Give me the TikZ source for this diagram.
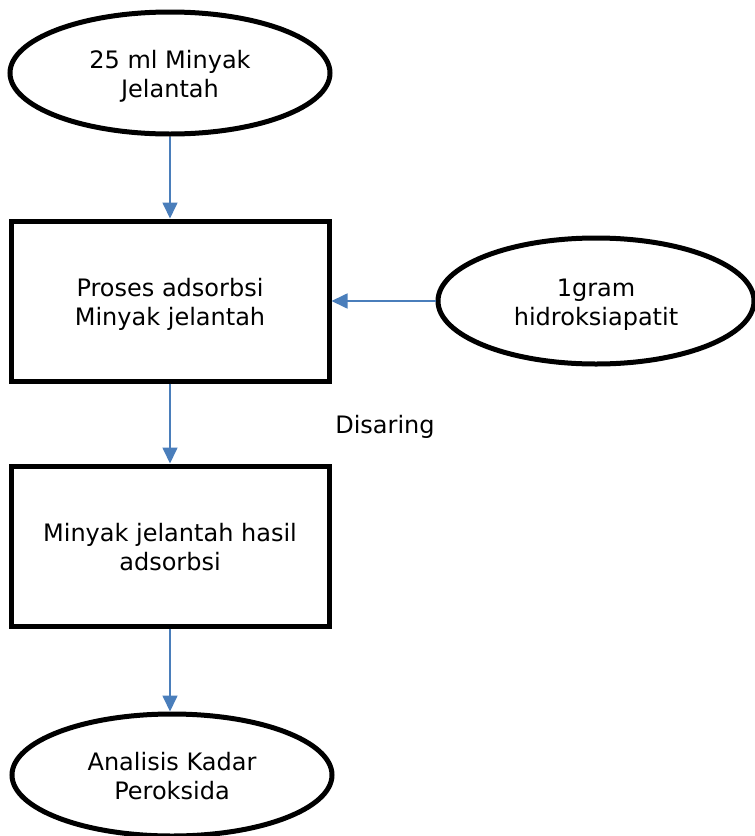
\documentclass[tikz,border=0pt]{standalone}
\usepackage{fontspec}
\setmainfont{DejaVu Sans}
\usetikzlibrary{shapes.geometric,arrows.meta}
\definecolor{arrowblue}{HTML}{4A7EBB}
\newcommand\twoline[2]{\raisebox{-4pt}[\height][\depth]{\begin{tabular}{@{}c@{}}#1\\#2\end{tabular}}}
\begin{document}
\begin{tikzpicture}[x=1pt,y=-1pt,
  txt/.style={font=\fontsize{24}{29.5}\selectfont, align=center},
  oval/.style={draw, line width=5pt, ellipse, inner sep=0pt, txt},
  box/.style={draw, line width=5pt, rectangle, inner sep=0pt, txt},
  flow/.style={draw=arrowblue, line width=1.7pt, -{Triangle[length=16pt,width=15pt]}}]
\useasboundingbox (0,0) rectangle (755,836);
\node[oval, minimum width=320pt, minimum height=122pt] (a) at (170,73) {\twoline{25 ml Minyak}{Jelantah}};
\node[box, minimum width=318pt, minimum height=160pt] (b) at (170,301) {\twoline{Proses adsorbsi}{Minyak jelantah}};
\node[oval, minimum width=316pt, minimum height=126pt] (h) at (596,301) {\twoline{1gram}{hidroksiapatit}};
\node[box, minimum width=318pt, minimum height=160pt] (c) at (170,546) {\twoline{Minyak jelantah hasil}{adsorbsi}};
\node[oval, minimum width=320pt, minimum height=122pt] (d) at (172,775) {\twoline{Analisis Kadar}{Peroksida}};
\node[txt] (dis) at (385,427) {Disaring};
\draw[flow] (a) -- (b);
\draw[flow] (h) -- (b);
\draw[flow] (b) -- (c);
\draw[flow] (c.south) -- (d.north -| c.south);
\end{tikzpicture}
\end{document}
